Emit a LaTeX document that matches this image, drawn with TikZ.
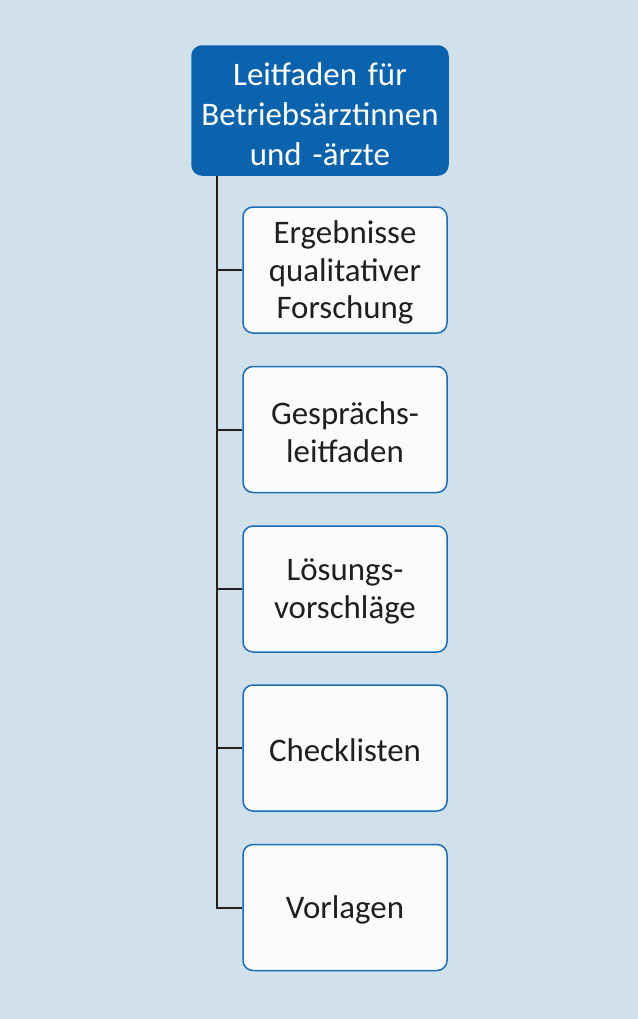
\documentclass[tikz,border=0pt]{standalone}
\usepackage{fontspec}
\setmainfont{Carlito}
\definecolor{bg}{HTML}{D0E1EC}
\definecolor{topblue}{HTML}{0B63AE}
\definecolor{edgeblue}{HTML}{1A6DB6}
\definecolor{boxfill}{HTML}{F9FBFC}
\definecolor{linec}{HTML}{231F20}
\begin{document}
\begin{tikzpicture}[x=1bp,y=-1bp,
  topbox/.style={draw=topblue,fill=topblue,line width=1.5bp,rounded corners=10bp,
    minimum width=256bp,minimum height=129bp,inner sep=0pt},
  toptext/.style={text width=250bp,align=center,text=white,
    font=\fontsize{33}{40}\selectfont,inner sep=0pt},
  subbox/.style={draw=edgeblue,fill=boxfill,line width=1.5bp,rounded corners=10bp,
    minimum width=204bp,minimum height=126bp,inner sep=0pt},
  subtext/.style={text width=200bp,align=center,text=black!88,
    font=\fontsize{33}{38}\selectfont,inner sep=0pt},
  conn/.style={draw=linec,line width=2bp}]
\fill[bg] (0,0) rectangle (638,1019);
\useasboundingbox (0,0) rectangle (638,1019);
\node[topbox] (top) at (320,110.5) {};
\node[toptext] (topt) at ([yshift=-3.5bp]top.center) {Leitfaden für\\Betriebsärztinnen\\und -ärzte};
\node[subbox] (b1) at (345,270) {};
\node[subbox] (b2) at (345,429.5) {};
\node[subbox] (b3) at (345,589) {};
\node[subbox] (b4) at (345,748) {};
\node[subbox] (b5) at (345,907.5) {};
\node[subtext] (t1) at ([yshift=-2.5bp]b1.center) {Ergebnisse\\qualitativer\\Forschung};
\node[subtext] (t2) at ([yshift=-2.5bp]b2.center) {Gesprächs-\\leitfaden};
\node[subtext] (t3) at ([yshift=-2.5bp]b3.center) {Lösungs-\\vorschläge};
\node[subtext] (t4) at ([yshift=-2.5bp]b4.center) {Checklisten};
\node[subtext] (t5) at ([yshift=-2.5bp]b5.center) {Vorlagen};
\coordinate (tr) at (217,0);
\draw[conn] (top.south -| tr) |- (b5.west);
\foreach \b in {b1,b2,b3,b4}{
  \draw[conn] (\b.west -| tr) -- (\b.west);
}
\end{tikzpicture}
\end{document}
